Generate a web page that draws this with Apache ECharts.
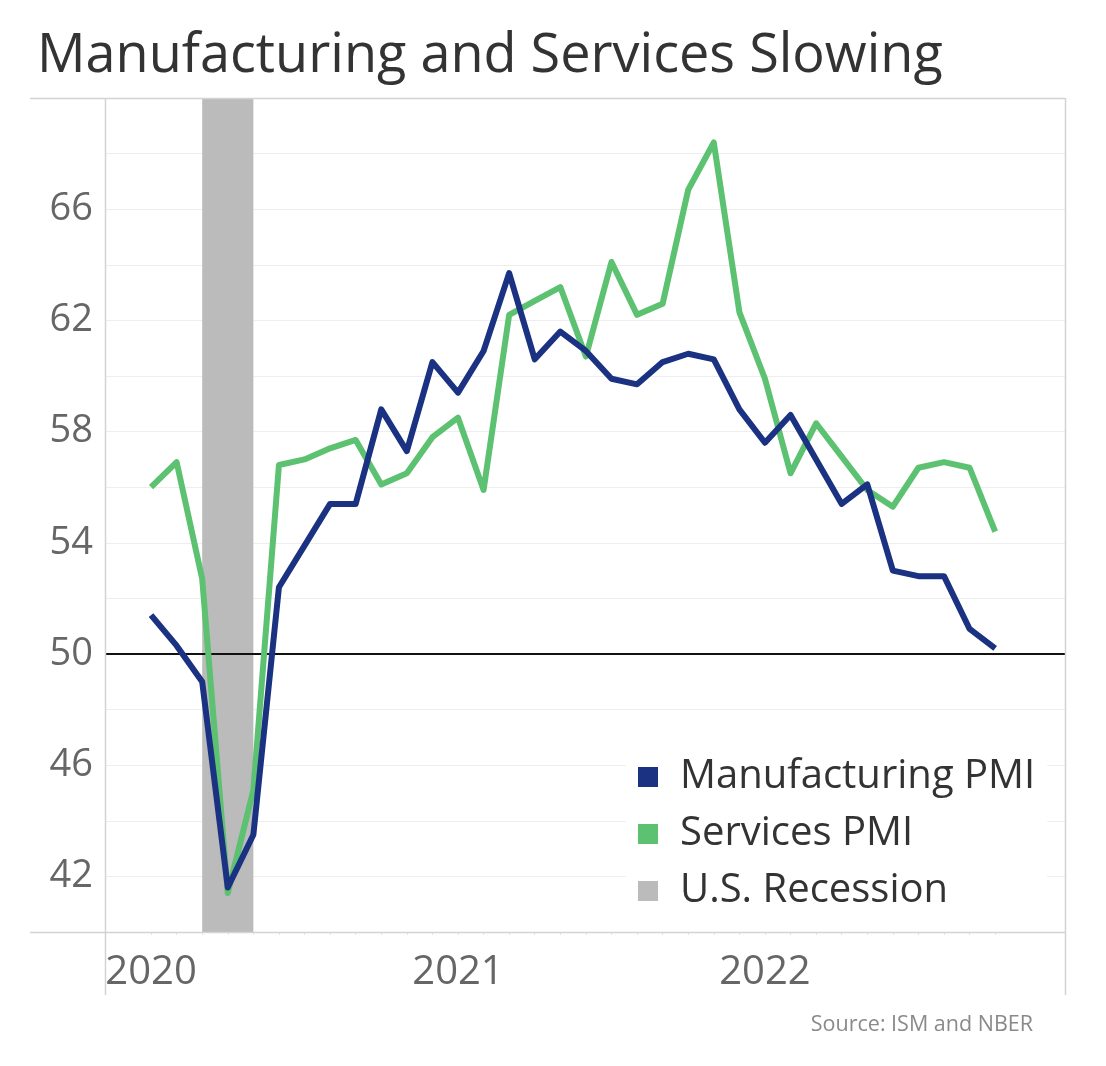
<!DOCTYPE html>
<html>
<head>
<meta charset="utf-8">
<script src="https://cdn.jsdelivr.net/npm/echarts@6/dist/echarts.min.js"></script>
<style>
html,body{margin:0;padding:0;background:#fff;}
#chart{width:1106px;height:1066px;}
</style>
</head>
<body>
<div id="chart"></div>
<script>
// month index 0 = Jan 2020
const months = ['2020-01','2020-02','2020-03','2020-04','2020-05','2020-06','2020-07','2020-08','2020-09','2020-10','2020-11','2020-12',
  '2021-01','2021-02','2021-03','2021-04','2021-05','2021-06','2021-07','2021-08','2021-09','2021-10','2021-11','2021-12',
  '2022-01','2022-02','2022-03','2022-04','2022-05','2022-06','2022-07','2022-08','2022-09','2022-10'];
const manufacturing = [51.4,50.3,49.0,41.6,43.5,52.4,53.9,55.4,55.4,58.8,57.3,60.5,
  59.4,60.9,63.7,60.6,61.6,60.9,59.9,59.7,60.5,60.8,60.6,58.8,
  57.6,58.6,57.0,55.4,56.1,53.0,52.8,52.8,50.9,50.2];
const services = [56.0,56.9,52.7,41.4,45.1,56.8,57.0,57.4,57.7,56.1,56.5,57.8,
  58.5,55.9,62.2,62.7,63.2,60.7,64.1,62.2,62.6,66.7,68.4,62.3,
  59.9,56.5,58.3,57.1,55.9,55.3,56.7,56.9,56.7,54.4];
const recession = ['2020-03','2020-05'];
const yearLabels = ['2020','2021','2022'];
const yearTickMonths = ['2020-01','2021-01','2022-01'];
const yTickLabels = [42,46,50,54,58,62,66];
const referenceLevel = 50;

const idx = m => (parseInt(m.slice(0,4),10)-2020)*12 + parseInt(m.slice(5),10)-1;
const toPts = arr => arr.map((v,i) => [idx(months[i]), v]);
const yearTicks = yearTickMonths.map(idx);

const chart = echarts.init(document.getElementById('chart'), null, {renderer:'canvas'});
const FONT = '"Open Sans", "Noto Sans", sans-serif';
const frame = '#d3d3d3';

chart.setOption({
  animation: false,
  backgroundColor: '#fff',
  title: [
    {text: 'Manufacturing and Services Slowing', left: 32, top: 25,
     textStyle: {fontFamily: FONT, fontSize: 54, fontWeight: 'normal', color: '#333'}},
    {text: 'Source: ISM and NBER', right: 68, top: 1009,
     textStyle: {fontFamily: FONT, fontSize: 21.5, fontWeight: 'normal', color: '#8a8a8a'}}
  ],
  grid: {left: 105, right: 41, top: 98, bottom: 134},
  xAxis: {
    type: 'value', min: -1.8, max: 35.73,
    axisLine: {show: false},
    axisTick: {show: true, customValues: months.map(idx), length: 3, lineStyle: {color: '#e6e6e6'}},
    splitLine: {show: false},
    axisLabel: {customValues: yearTicks, margin: 21, fontFamily: FONT, fontSize: 40, color: '#666',
      formatter: v => yearLabels[yearTicks.indexOf(Math.round(v))] || ''}
  },
  yAxis: {
    type: 'value', min: 40, max: 70, interval: 2,
    axisLine: {show: false},
    axisTick: {show: true, length: 8, lineStyle: {color: '#eeeeee'}},
    splitLine: {show: true, lineStyle: {color: '#eeeeee', width: 1}},
    axisLabel: {customValues: yTickLabels, margin: 12, fontFamily: FONT, fontSize: 38, color: '#666'}
  },
  legend: {
    orient: 'vertical', left: 626, top: 747,
    data: ['Manufacturing PMI','Services PMI','U.S. Recession'],
    icon: 'rect', itemWidth: 20, itemHeight: 20, itemGap: 17,
    backgroundColor: '#fff', padding: [10, 12, 10, 12],
    textStyle: {fontFamily: FONT, fontSize: 40, lineHeight: 40, color: '#333', padding: [0,0,0,17]}
  },
  graphic: [
    {type: 'line', shape: {x1: 30, y1: 98.5, x2: 1065, y2: 98.5}, style: {stroke: frame, lineWidth: 1.5}, z: 10},
    {type: 'line', shape: {x1: 30, y1: 932.5, x2: 1065, y2: 932.5}, style: {stroke: frame, lineWidth: 1.5}, z: 10},
    {type: 'line', shape: {x1: 105.5, y1: 98, x2: 105.5, y2: 995}, style: {stroke: frame, lineWidth: 1.5}, z: 10},
    {type: 'line', shape: {x1: 1065.5, y1: 98, x2: 1065.5, y2: 995}, style: {stroke: frame, lineWidth: 1.5}, z: 10}
  ],
  series: [
    {
      name: 'U.S. Recession', type: 'line', data: [], color: '#bbbbbb', z: 1,
      markArea: {silent: true, itemStyle: {color: '#bbbbbb'},
        data: [[{xAxis: idx(recession[0])}, {xAxis: idx(recession[1])}]]}
    },
    {
      name: 'Services PMI', type: 'line', data: toPts(services), color: '#5cc170', z: 3,
      showSymbol: false, lineStyle: {width: 6, join: 'round'}
    },
    {
      name: 'Manufacturing PMI', type: 'line', data: toPts(manufacturing), color: '#1a3281', z: 4,
      showSymbol: false, lineStyle: {width: 6, join: 'round'},
      markLine: {silent: true, symbol: 'none', label: {show: false}, z: 2,
        lineStyle: {color: '#111', width: 2, type: 'solid'},
        data: [{yAxis: referenceLevel}]}
    }
  ]
});
</script>
</body>
</html>
